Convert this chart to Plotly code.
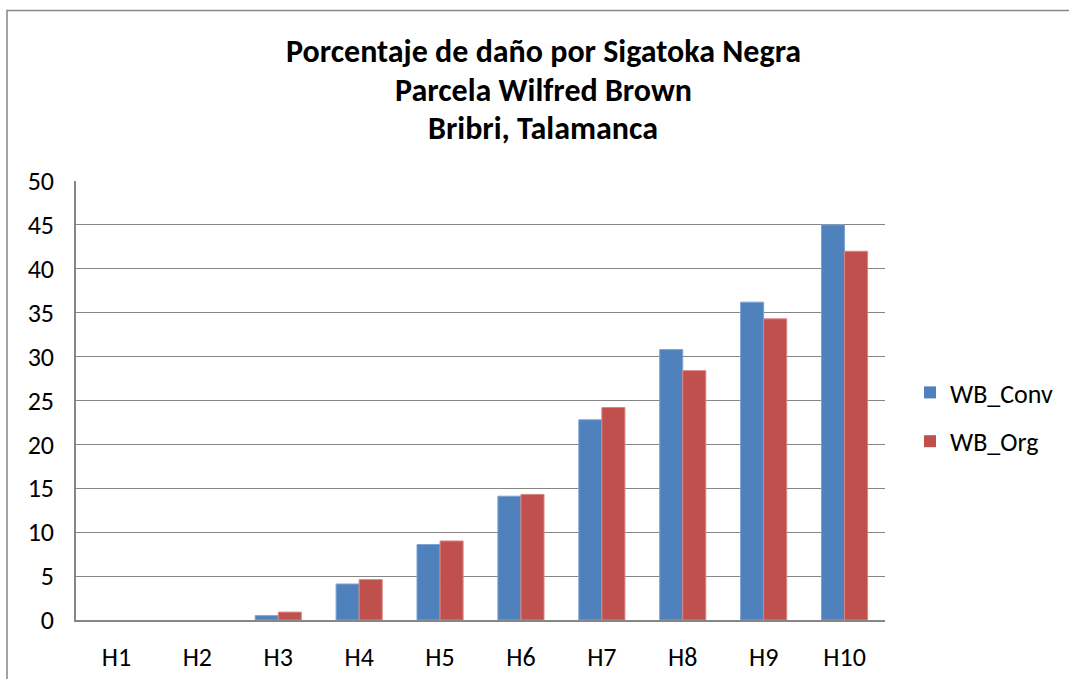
import plotly.graph_objects as go

categories = ["H1", "H2", "H3", "H4", "H5", "H6", "H7", "H8", "H9", "H10"]
wb_conv = [0, 0, 0.5, 4.1, 8.6, 14.1, 22.8, 30.8, 36.2, 45.0]
wb_org = [0, 0, 0.9, 4.6, 9.0, 14.3, 24.2, 28.4, 34.3, 42.0]
title_lines = ["Porcentaje de daño por Sigatoka Negra", "Parcela Wilfred Brown", "Bribri, Talamanca"]
y_ticks = list(range(0, 51, 5))

FONT = "Carlito, Calibri, Lato, sans-serif"

def edge_widths(vals):
    return [0 if v == 0 else 1 for v in vals]

fig = go.Figure()
fig.add_trace(go.Bar(name="WB_Conv", x=categories, y=wb_conv,
                     marker=dict(color="#4F81BD",
                                 line=dict(color="#7FA3D3", width=edge_widths(wb_conv))),
                     legendgroup="a"))
fig.add_trace(go.Bar(name="WB_Org", x=categories, y=wb_org,
                     marker=dict(color="#C0504D",
                                 line=dict(color="#D98582", width=edge_widths(wb_org))),
                     legendgroup="b"))

W, H = 1069, 679
L, R, T, B = 76, 885, 181, 620
pw, ph = R - L, B - T

def px_x(x):
    return (x - L) / pw

def px_y(y):
    return (B - y) / ph

annotations = []
for line, yc in zip(title_lines, [52, 91, 129]):
    annotations.append(dict(text="<b>%s</b>" % line, x=px_x(543), y=px_y(yc),
                            xref="paper", yref="paper", showarrow=False,
                            xanchor="center", yanchor="middle",
                            font=dict(family=FONT, size=32, color="#000000")))

fig.update_layout(
    width=W, height=H,
    margin=dict(l=L, r=W - R, t=T, b=H - B, pad=0, autoexpand=False),
    paper_bgcolor="white", plot_bgcolor="white",
    barmode="group", bargap=0.43, bargroupgap=0,
    font=dict(family=FONT, size=26, color="#000000"),
    showlegend=True,
    legend=dict(xref="container", yref="container", x=910 / W, y=1 - 417 / H,
                xanchor="left", yanchor="middle",
                font=dict(family=FONT, size=26), tracegroupgap=12,
                bgcolor="rgba(0,0,0,0)"),
    annotations=annotations,
    shapes=[dict(type="rect", xref="paper", yref="paper",
                 x0=px_x(7), x1=px_x(1200), y0=px_y(800), y1=px_y(10.5),
                 line=dict(color="#868686", width=1.5), fillcolor="rgba(0,0,0,0)",
                 layer="below")],
)
fig.update_xaxes(showline=True, linecolor="#868686", linewidth=1.5, showgrid=False,
                 ticks="", ticklabelstandoff=13, tickfont=dict(size=26), automargin=False)
fig.update_yaxes(range=[0, 50], tickvals=y_ticks, showline=True, linecolor="#868686",
                 linewidth=1.5, showgrid=True, gridcolor="#868686", gridwidth=1.3,
                 zeroline=False, ticks="", ticklabelstandoff=15, tickfont=dict(size=26),
                 automargin=False)

fig.write_html("out.html", config={"displayModeBar": False},
               post_script="document.body.style.margin='0';document.body.style.overflow='hidden';")
